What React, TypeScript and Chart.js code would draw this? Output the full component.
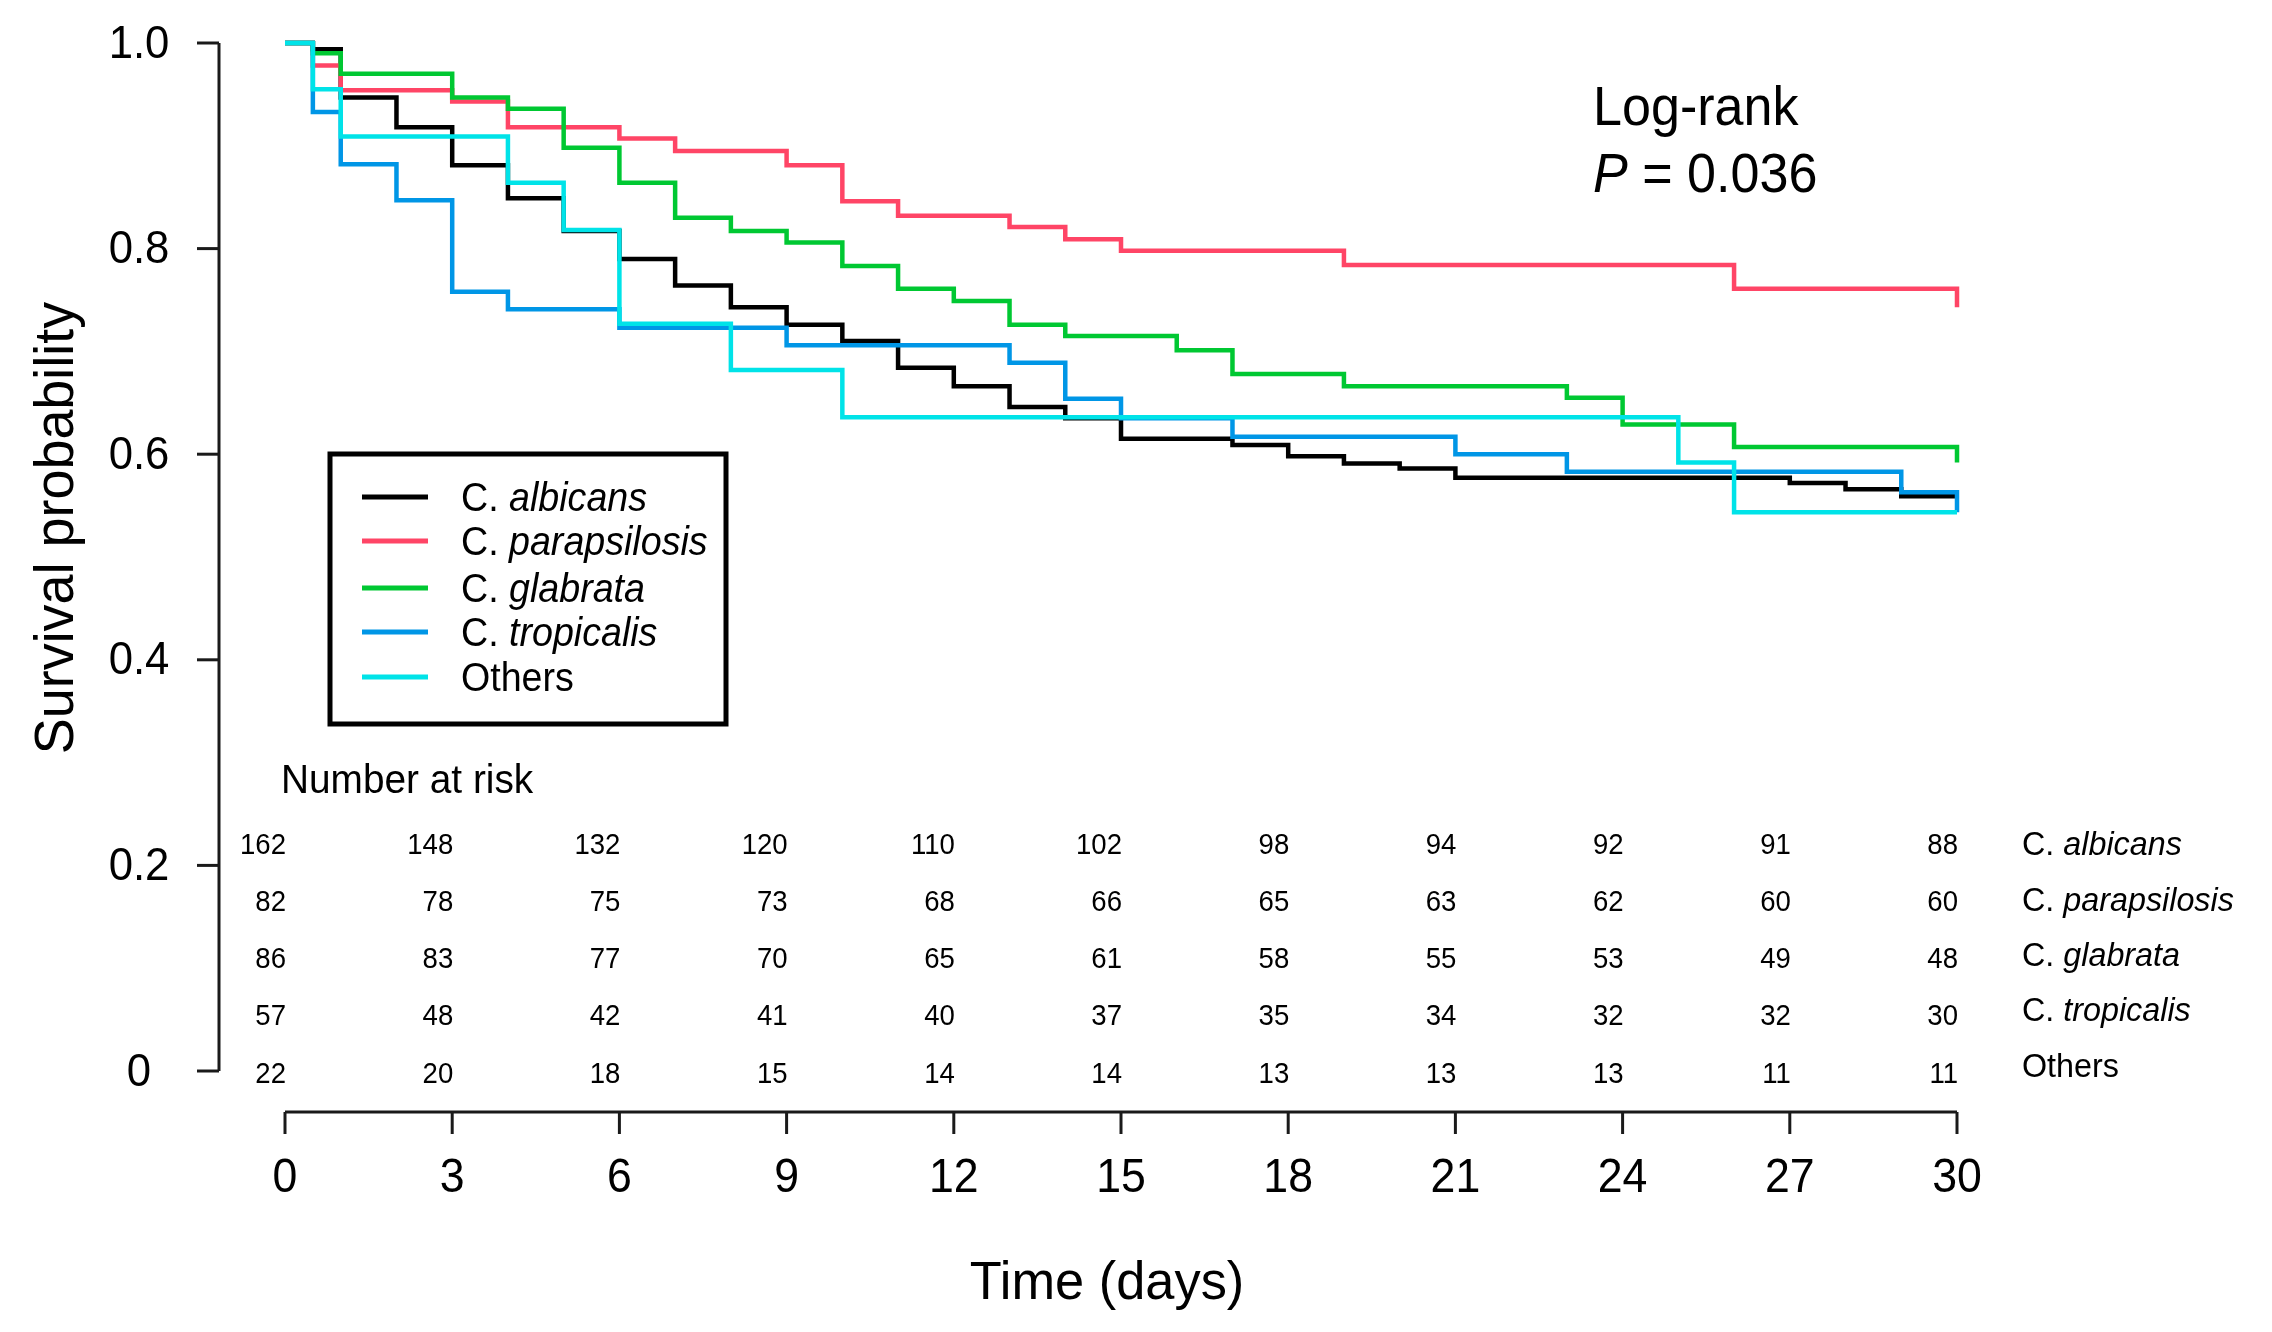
import React, { useEffect, useRef } from 'react';
import { Chart, registerables } from 'chart.js';

Chart.register(...registerables);

// ---------- Data ----------
const seriesNames = ['C. albicans', 'C. parapsilosis', 'C. glabrata', 'C. tropicalis', 'Others'];
const seriesColors = ['#000000', '#FF4566', '#00C832', '#0096E6', '#00E3E8'];

const albicansTimes = [0, 0.5, 1, 2, 3, 4, 5, 6, 7, 8, 9, 10, 11, 12, 13, 14, 15, 17, 18, 19, 20, 21, 27, 28, 29, 30];
const albicansSurv = [1, 0.994, 0.947, 0.918, 0.881, 0.849, 0.817, 0.79, 0.764, 0.743, 0.726, 0.71, 0.684, 0.666, 0.646, 0.635, 0.615, 0.609, 0.598, 0.591, 0.586, 0.577, 0.572, 0.566, 0.559, 0.559];

const parapsilosisTimes = [0, 0.5, 1, 3, 4, 6, 7, 9, 10, 11, 13, 14, 15, 19, 26, 30];
const parapsilosisSurv = [1, 0.978, 0.954, 0.943, 0.918, 0.907, 0.895, 0.881, 0.846, 0.832, 0.821, 0.809, 0.798, 0.784, 0.761, 0.743];

const glabrataTimes = [0, 0.5, 1, 3, 4, 5, 6, 7, 8, 9, 10, 11, 12, 13, 14, 16, 17, 19, 23, 24, 26, 30];
const glabrataSurv = [1, 0.99, 0.97, 0.947, 0.936, 0.898, 0.864, 0.83, 0.817, 0.806, 0.783, 0.761, 0.749, 0.726, 0.715, 0.701, 0.678, 0.666, 0.655, 0.629, 0.607, 0.592];

const tropicalisTimes = [0, 0.5, 1, 2, 3, 4, 6, 9, 13, 14, 15, 17, 21, 23, 29, 30];
const tropicalisSurv = [1, 0.933, 0.882, 0.847, 0.758, 0.741, 0.723, 0.706, 0.689, 0.654, 0.635, 0.617, 0.6, 0.583, 0.563, 0.5435];

const othersTimes = [0, 0.5, 1, 4, 5, 6, 8, 10, 25, 26, 30];
const othersSurv = [1, 0.955, 0.909, 0.864, 0.818, 0.727, 0.682, 0.636, 0.592, 0.5435, 0.5435];

const riskDays = [0, 3, 6, 9, 12, 15, 18, 21, 24, 27, 30];
const albicansRisk = [162, 148, 132, 120, 110, 102, 98, 94, 92, 91, 88];
const parapsilosisRisk = [82, 78, 75, 73, 68, 66, 65, 63, 62, 60, 60];
const glabrataRisk = [86, 83, 77, 70, 65, 61, 58, 55, 53, 49, 48];
const tropicalisRisk = [57, 48, 42, 41, 40, 37, 35, 34, 32, 32, 30];
const othersRisk = [22, 20, 18, 15, 14, 14, 13, 13, 13, 11, 11];

const xTicks = [0, 3, 6, 9, 12, 15, 18, 21, 24, 27, 30];
const yTicks = [0, 0.2, 0.4, 0.6, 0.8, 1.0];
const yTickLabels = ['0', '0.2', '0.4', '0.6', '0.8', '1.0'];

const xTitle = 'Time (days)';
const yTitle = 'Survival probability';
const riskTitle = 'Number at risk';
const testLine1 = 'Log-rank';
const testLine2P = 'P';
const testLine2Rest = ' = 0.036';

const allTimes = [albicansTimes, parapsilosisTimes, glabrataTimes, tropicalisTimes, othersTimes];
const allSurv = [albicansSurv, parapsilosisSurv, glabrataSurv, tropicalisSurv, othersSurv];
const allRisk = [albicansRisk, parapsilosisRisk, glabrataRisk, tropicalisRisk, othersRisk];

// ---------- Helpers ----------
const FONT = "'Liberation Sans', Arial, sans-serif";

function drawText(
  ctx: CanvasRenderingContext2D,
  text: string,
  x: number,
  y: number,
  size: number,
  align: CanvasTextAlign,
  baseline: CanvasTextBaseline,
  sx = 1,
  italic = false,
) {
  ctx.save();
  ctx.translate(x, y);
  ctx.scale(sx, 1);
  ctx.font = `${italic ? 'italic ' : ''}${size}px ${FONT}`;
  ctx.textAlign = align;
  ctx.textBaseline = baseline;
  ctx.fillStyle = '#000';
  ctx.fillText(text, 0, 0);
  ctx.restore();
}

function drawSpecies(ctx: CanvasRenderingContext2D, name: string, x: number, y: number, size: number, sx: number) {
  if (name.startsWith('C. ')) {
    ctx.save();
    ctx.font = `${size}px ${FONT}`;
    const w = ctx.measureText('C. ').width * sx;
    ctx.restore();
    drawText(ctx, 'C. ', x, y, size, 'left', 'middle', sx, false);
    drawText(ctx, name.slice(3), x + w, y, size, 'left', 'middle', sx, true);
  } else {
    drawText(ctx, name, x, y, size, 'left', 'middle', sx, false);
  }
}

const decorPlugin = {
  id: 'kmDecor',
  afterDatasetsDraw(chart: any) {
    const ctx: CanvasRenderingContext2D = chart.ctx;
    const xs = chart.scales.x;
    const ys = chart.scales.y;
    ctx.save();
    ctx.strokeStyle = '#1a1a1a';
    ctx.lineWidth = 3;
    ctx.lineCap = 'butt';

    // Y axis (detached, R style)
    const yAxisX = 219;
    ctx.beginPath();
    ctx.moveTo(yAxisX, ys.getPixelForValue(1));
    ctx.lineTo(yAxisX, ys.getPixelForValue(0));
    ctx.stroke();
    yTicks.forEach((v, i) => {
      const py = ys.getPixelForValue(v);
      ctx.beginPath();
      ctx.moveTo(yAxisX - 22, py);
      ctx.lineTo(yAxisX, py);
      ctx.stroke();
      drawText(ctx, yTickLabels[i], 139, py + 2, 46, 'center', 'middle', 0.95);
    });

    // X axis (detached)
    const xAxisY = 1112;
    ctx.beginPath();
    ctx.moveTo(xs.getPixelForValue(0), xAxisY);
    ctx.lineTo(xs.getPixelForValue(30), xAxisY);
    ctx.stroke();
    xTicks.forEach((v) => {
      const px = xs.getPixelForValue(v);
      ctx.beginPath();
      ctx.moveTo(px, xAxisY);
      ctx.lineTo(px, xAxisY + 22);
      ctx.stroke();
      drawText(ctx, String(v), px, 1179, 48, 'center', 'middle', 0.93);
    });

    // Axis titles
    drawText(ctx, xTitle, 1107, 1284, 54, 'center', 'middle', 0.97);
    ctx.save();
    ctx.translate(58, 528);
    ctx.rotate(-Math.PI / 2);
    drawText(ctx, yTitle, 0, 0, 55, 'center', 'middle', 0.98);
    ctx.restore();

    // Log-rank annotation
    drawText(ctx, testLine1, 1593, 125, 56, 'left', 'alphabetic', 0.93);
    ctx.save();
    ctx.font = `italic 56px ${FONT}`;
    const pw = ctx.measureText(testLine2P).width * 0.93;
    ctx.restore();
    drawText(ctx, testLine2P, 1593, 192, 56, 'left', 'alphabetic', 0.93, true);
    drawText(ctx, testLine2Rest, 1593 + pw, 192, 56, 'left', 'alphabetic', 0.93);

    // Legend box
    ctx.lineWidth = 5;
    ctx.strokeStyle = '#000';
    ctx.strokeRect(330, 454, 396, 270);
    const legendRows = [497, 541, 588, 632, 677];
    chart.data.datasets.forEach((ds: any, i: number) => {
      const ly = legendRows[i];
      ctx.beginPath();
      ctx.strokeStyle = ds.borderColor;
      ctx.lineWidth = 5;
      ctx.moveTo(362, ly);
      ctx.lineTo(428, ly);
      ctx.stroke();
      drawSpecies(ctx, ds.label, 461, ly + 3, 40, 0.94);
    });

    // Number at risk table
    drawText(ctx, riskTitle, 281, 782, 40, 'left', 'middle', 0.97);
    const riskRows = [846, 903, 960, 1017, 1075];
    const labelRows = [846, 902, 957, 1012, 1068];
    allRisk.forEach((row, r) => {
      row.forEach((n, c) => {
        const px = xs.getPixelForValue(riskDays[c]) + 1;
        drawText(ctx, String(n), px, riskRows[r], 29, 'right', 'middle', 0.95);
      });
      drawSpecies(ctx, seriesNames[r], 2022, labelRows[r], 34, 0.95);
    });
    ctx.restore();
  },
};

export default function App() {
  const canvasRef = useRef<HTMLCanvasElement | null>(null);

  useEffect(() => {
    const canvas = canvasRef.current;
    if (!canvas) return;
    const datasets = seriesNames.map((name, i) => ({
      label: name,
      data: allTimes[i].map((t, j) => ({ x: t, y: allSurv[i][j] })),
      borderColor: seriesColors[i],
      backgroundColor: seriesColors[i],
      borderWidth: 4.5,
      pointRadius: 0,
      pointHoverRadius: 0,
      stepped: 'before' as const,
      tension: 0,
      fill: false,
      clip: 12,
      order: seriesNames.length - i,
    }));
    const chart = new Chart(canvas, {
      type: 'line',
      data: { datasets },
      options: {
        animation: false,
        responsive: false,
        devicePixelRatio: 1,
        events: [],
        layout: { padding: { left: 285, right: 2272 - 1957, top: 43, bottom: 1332 - 1071 } },
        plugins: { legend: { display: false }, tooltip: { enabled: false } },
        scales: {
          x: { type: 'linear', min: 0, max: 30, display: false },
          y: { type: 'linear', min: 0, max: 1, display: false },
        },
      },
      plugins: [decorPlugin],
    });
    return () => chart.destroy();
  }, []);

  return (
    <div style={{ position: 'absolute', left: 0, top: 0, width: 2272, height: 1332, background: '#ffffff' }}>
      <canvas ref={canvasRef} width={2272} height={1332} style={{ display: 'block', width: '2272px', height: '1332px' }} />
    </div>
  );
}
